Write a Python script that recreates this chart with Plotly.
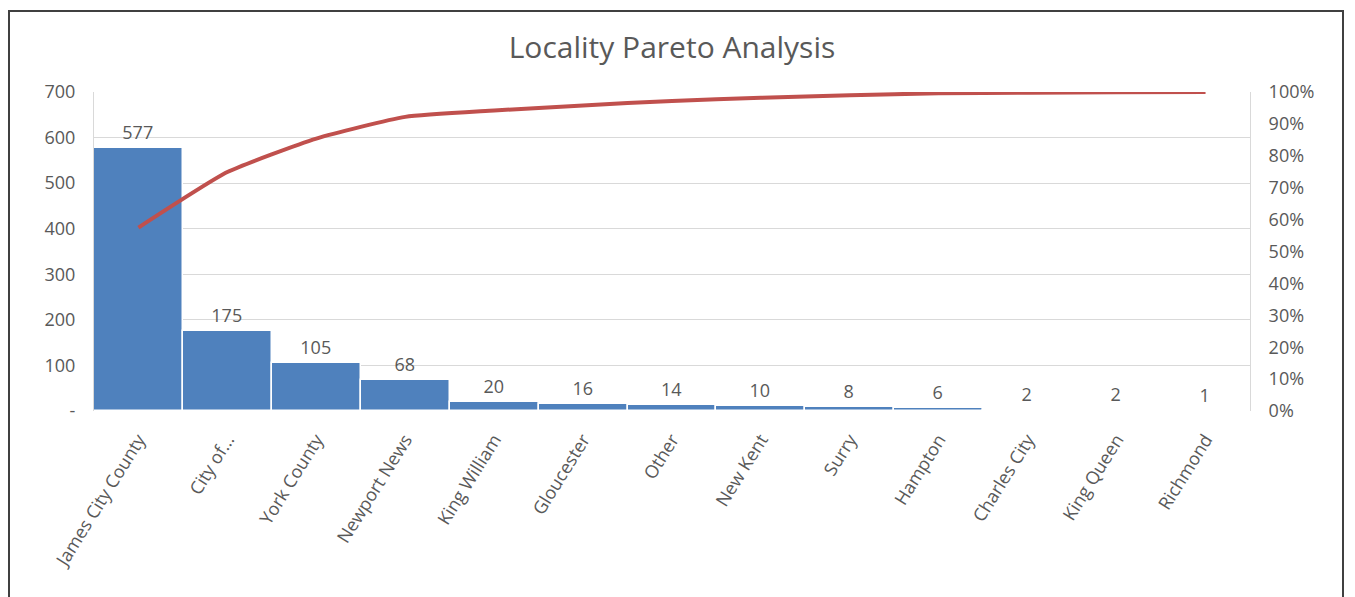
import plotly.graph_objects as go

categories = ["James City County", "City of...", "York County", "Newport News", "King William",
              "Gloucester", "Other", "New Kent", "Surry", "Hampton", "Charles City", "King Queen", "Richmond"]
counts = [577, 175, 105, 68, 20, 16, 14, 10, 8, 6, 2, 2, 1]
cum_pct = [0.575, 0.749, 0.854, 0.922, 0.942, 0.958, 0.972, 0.982, 0.990, 0.996, 0.998, 0.999, 1.000]

left_ticks = [0, 100, 200, 300, 400, 500, 600, 700]
left_ticktext = ["-", "100", "200", "300", "400", "500", "600", "700"]
right_ticks = [i / 10 for i in range(11)]
right_ticktext = [f"{i*10}%" for i in range(11)]

FONT = "Open Sans"
GREY = "#595959"

fig = go.Figure()
fig.add_trace(go.Bar(
    x=categories, y=counts, marker=dict(color="#4F81BD", line=dict(color="white", width=1.5)),
    text=[str(v) for v in counts], textposition="outside", cliponaxis=False,
    textfont=dict(size=18, color=GREY, family=FONT), showlegend=False,
))
fig.add_trace(go.Scatter(
    x=categories, y=cum_pct, yaxis="y2", mode="lines",
    line=dict(color="#C0504D", width=4, shape="spline", smoothing=0.5), showlegend=False,
))

L, R, T, B = 94, 105, 92, 186
W, H = 1355, 597
pw, ph = W - L - R, H - T - B

fig.update_layout(
    width=W, height=H, margin=dict(l=L, r=R, t=T, b=B),
    paper_bgcolor="white", plot_bgcolor="white", bargap=0,
    title=dict(text="Locality Pareto Analysis", x=0.5, xref="paper", y=1 - 47 / H, yanchor="middle",
               font=dict(size=30, color=GREY, family=FONT)),
    font=dict(family=FONT, color=GREY),
    xaxis=dict(tickangle=-58, tickfont=dict(size=18, color=GREY), showgrid=False,
               ticks="outside", ticklen=10, tickcolor="white"),
    yaxis=dict(range=[0, 700], tickvals=left_ticks, ticktext=left_ticktext,
               tickfont=dict(size=18, color=GREY), gridcolor="#D9D9D9", gridwidth=1,
               showline=True, linecolor="#D9D9D9", linewidth=1, zeroline=False, ticklabelstandoff=14),
    yaxis2=dict(range=[0, 1.0], overlaying="y", side="right", tickvals=right_ticks, ticktext=right_ticktext,
                tickfont=dict(size=18, color=GREY), showgrid=False, showline=True,
                linecolor="#D9D9D9", linewidth=1, zeroline=False, ticklabelstandoff=14),
    shapes=[dict(type="rect", xref="paper", yref="paper",
                 x0=(9 - L) / pw, x1=(1343 - L) / pw,
                 y0=(H - B - 605) / ph, y1=(H - B - 11) / ph,
                 line=dict(color="#404040", width=2), fillcolor="rgba(0,0,0,0)", layer="above")],
)

fig.write_html("out.html")
